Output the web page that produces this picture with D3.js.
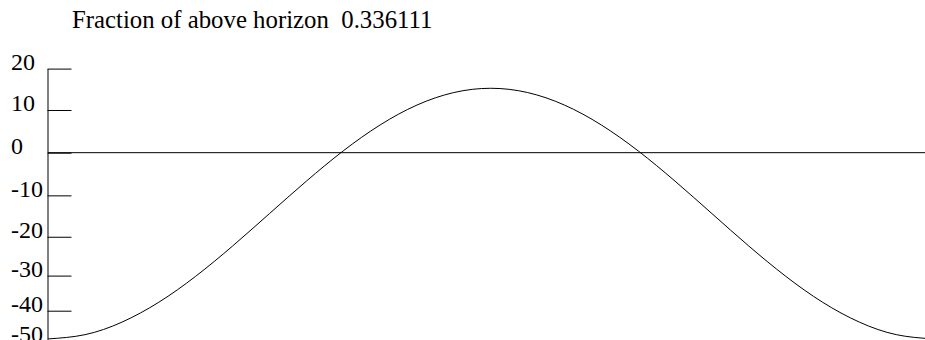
<!DOCTYPE html>
<html>
<head>
<meta charset="utf-8">
<script src="https://cdn.jsdelivr.net/npm/d3@7"></script>
<style>
  html, body { margin: 0; padding: 0; background: #fff; }
  svg { display: block; }
  .serif { font-family: "Liberation Serif", Tinos, "Nimbus Roman", "Times New Roman", Times, serif; }
</style>
</head>
<body>
<svg id="chart" width="925" height="340"></svg>
<script>
// Sun elevation over one day (degrees), sampled every hour, midnight to midnight
const fractionAbove = 0.336111;
const hours = [0, 1, 2, 3, 4, 5, 6, 7, 8, 9, 10, 11, 12, 13, 14, 15, 16, 17, 18, 19, 20, 21, 22, 23, 24];
const elevation = [-49.25, -47.75, -43.58, -37.47, -30.18, -22.32, -14.35, -6.66, 0.41, 6.47, 11.17, 14.16, 15.19,
                   14.16, 11.17, 6.47, 0.41, -6.66, -14.35, -22.32, -30.18, -37.47, -43.58, -47.75, -49.25];
const tickDegrees = [20, 10, 0, -10, -20, -30, -40, -50];

const rad = d => d * Math.PI / 180;

const svg = d3.select("#chart");

// Horizontal: hour of day. Vertical: sine of the elevation angle.
const x = d3.scaleLinear().domain([0, 24]).range([48.2, 933.2]);
const y = d3.scaleLinear()
  .domain([Math.sin(rad(-50)), Math.sin(rad(20))])
  .range([341, 68.6]);
const yDeg = d => y(Math.sin(rad(d)));

// Title with the fraction of the day the sun is above the horizon
svg.append("text")
  .attr("class", "serif")
  .attr("x", 72)
  .attr("y", 28)
  .style("font-size", "24.8px")
  .style("white-space", "pre")
  .attr("fill", "#000")
  .text("Fraction of above horizon  " + fractionAbove);

// Vertical axis with degree labels at sine-spaced positions
const axis = d3.axisRight(y)
  .tickValues(tickDegrees.map(d => Math.sin(rad(d))))
  .tickFormat((s, i) => tickDegrees[i])
  .tickSize(24)
  .tickSizeOuter(0);

const gAxis = svg.append("g")
  .attr("transform", "translate(47.5,0)")
  .call(axis)
  .attr("font-family", null)
  .attr("font-size", null);

gAxis.select(".domain").attr("stroke", "#000").attr("stroke-width", 1);
gAxis.selectAll(".tick line").attr("stroke", "#000").attr("stroke-width", 1);
gAxis.selectAll(".tick text")
  .attr("class", "serif")
  .attr("x", -36.5)
  .attr("dy", "0.03em")
  .attr("text-anchor", "start")
  .style("font-size", "24px")
  .attr("fill", "#000");

// Horizon line
svg.append("line")
  .attr("x1", 48).attr("x2", 925)
  .attr("y1", yDeg(0)).attr("y2", yDeg(0))
  .attr("stroke", "#000")
  .attr("stroke-width", 1);

// Elevation curve
const points = hours.map((h, i) => ({ h, e: elevation[i] }));
const line = d3.line()
  .x(d => x(d.h))
  .y(d => yDeg(d.e))
  .curve(d3.curveNatural);

svg.append("path")
  .datum(points)
  .attr("d", line)
  .attr("fill", "none")
  .attr("stroke", "#000")
  .attr("stroke-width", 1);
</script>
</body>
</html>
